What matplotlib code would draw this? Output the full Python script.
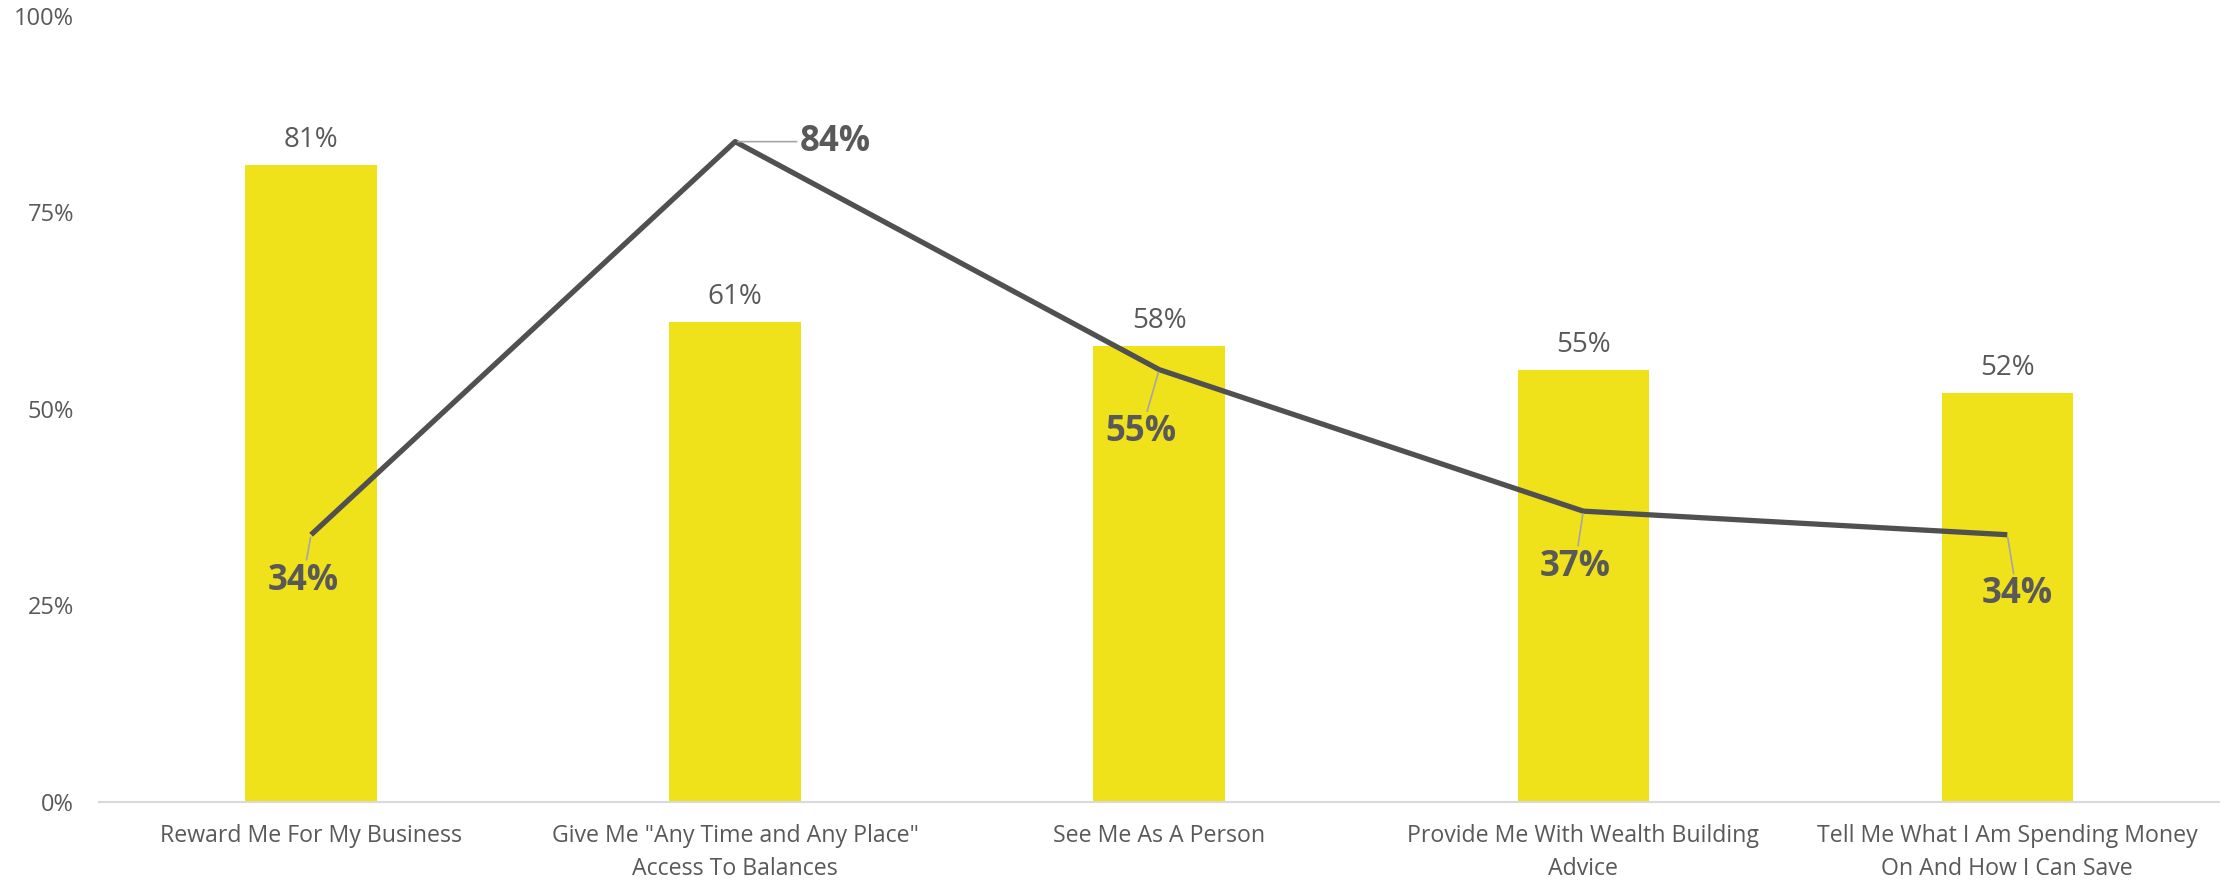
import matplotlib
matplotlib.use("Agg")
import matplotlib.pyplot as plt
from matplotlib.ticker import PercentFormatter

categories = [
    "Reward Me For My Business",
    "Give Me \"Any Time and Any Place\"\nAccess To Balances",
    "See Me As A Person",
    "Provide Me With Wealth Building\nAdvice",
    "Tell Me What I Am Spending Money\nOn And How I Can Save",
]
bar_values = [81, 61, 58, 55, 52]
line_values = [34, 84, 55, 37, 34]
y_ticks = [0, 25, 50, 75, 100]

# label offsets (points) for line labels
line_label_offsets = [(-6, -33), (72, 0), (-13, -45), (-6, -40), (7, -43)]

FONT = ["Open Sans", "DejaVu Sans"]
plt.rcParams["font.family"] = FONT
TEXT = "#595959"
BAR = "#EFE11A"
LINE = "#505050"

fig = plt.figure(figsize=(22.26, 8.8), dpi=100)
ax = fig.add_axes([0.0445, 0.0886, 0.9525, 0.8934])

x = list(range(len(categories)))
ax.bar(x, bar_values, width=0.31, color=BAR, zorder=2)
ax.plot(x, line_values, color=LINE, linewidth=3.8, zorder=3, solid_capstyle="butt")

for xi, v in zip(x, bar_values):
    ax.annotate(f"{v}%", (xi, v), xytext=(0, 8), textcoords="offset points",
                ha="center", va="bottom", fontsize=20, color=TEXT)

for xi, v, off in zip(x, line_values, line_label_offsets):
    ax.annotate(f"{v}%", (xi, v), xytext=off, textcoords="offset points",
                ha="center", va="center", fontsize=25, fontweight="bold", color=TEXT,
                arrowprops=dict(arrowstyle="-", color="#A6A6A6", lw=1.2,
                                shrinkA=0, shrinkB=2),
                zorder=4)

ax.set_xlim(-0.5, len(categories) - 0.5)
ax.set_ylim(0, 100)
ax.set_yticks(y_ticks)
ax.yaxis.set_major_formatter(PercentFormatter(decimals=0))
ax.set_xticks(x)
ax.set_xticklabels(categories, fontsize=16.7, color=TEXT, linespacing=1.5)
ax.tick_params(axis="y", length=0, labelsize=17, labelcolor=TEXT, pad=18)
ax.tick_params(axis="x", length=0, pad=16)

for s in ["top", "right", "left"]:
    ax.spines[s].set_visible(False)
ax.spines["bottom"].set_color("#D9D9D9")
ax.spines["bottom"].set_linewidth(1.5)

fig.savefig("out.png", dpi=100)
